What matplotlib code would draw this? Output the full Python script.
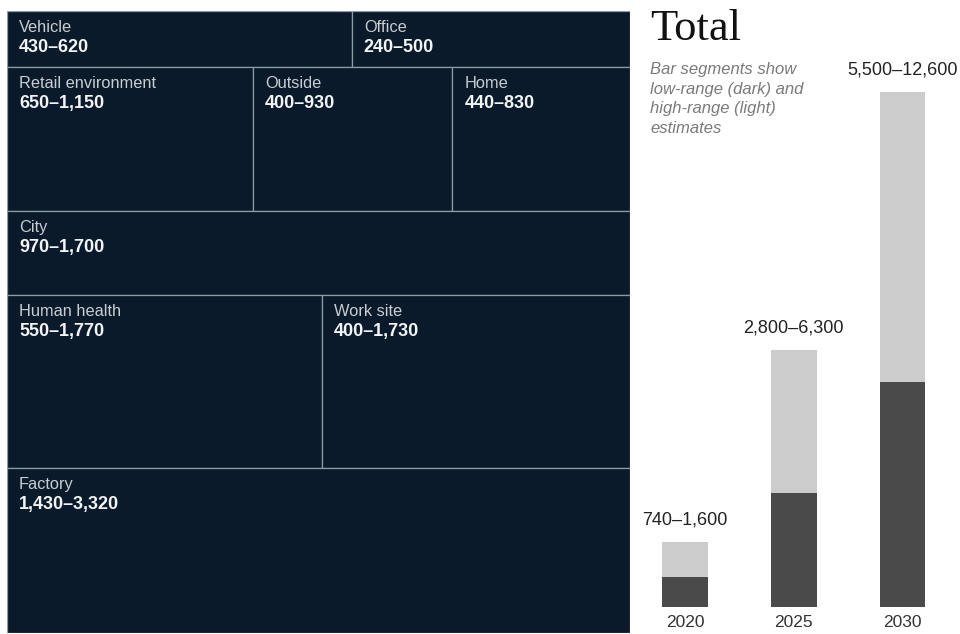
"""Treemap of estimated values by location plus total range bars."""
import matplotlib
matplotlib.use('Agg')
import matplotlib.pyplot as plt
from matplotlib.patches import Rectangle

plt.rcParams['font.family'] = ['Liberation Sans', 'DejaVu Sans']

# treemap cells (sized by high estimate), grouped into horizontal rows
locations = ["Vehicle", "Office", "Retail environment", "Outside", "Home",
             "City", "Human health", "Work site", "Factory"]
loc_low = [430, 240, 650, 400, 440, 970, 550, 400, 1430]
loc_high = [620, 500, 1150, 930, 830, 1700, 1770, 1730, 3320]
loc_row = [0, 0, 1, 1, 1, 2, 3, 3, 4]

# totals
years = ["2020", "2025", "2030"]
total_low = [740, 2800, 5500]
total_high = [1600, 6300, 12600]

W, H = 960, 634
CELL = '#0a1a2a'
EDGE = '#8e9ba7'


def rng(lo, hi):
    return f"{lo:,}\u2013{hi:,}"


fig = plt.figure(figsize=(W / 100, H / 100), dpi=100)


def px_axes(x0, y0, x1, y1):
    # pixel box (top-left origin) -> figure axes
    return fig.add_axes([x0 / W, 1 - y1 / H, (x1 - x0) / W, (y1 - y0) / H])


# --- treemap ---
ax = px_axes(7, 11, 630, 633)
total = sum(loc_high)
ax.set_xlim(0, 1)
ax.set_ylim(total, 0)
ax.axis('off')

y = 0
for r in sorted(set(loc_row)):
    idx = [i for i, rr in enumerate(loc_row) if rr == r]
    row_sum = sum(loc_high[i] for i in idx)
    x = 0
    for i in idx:
        w = loc_high[i] / row_sum
        ax.add_patch(Rectangle((x, y), w, row_sum, facecolor=CELL,
                               edgecolor=EDGE, linewidth=0.9))
        ax.annotate(locations[i], (x, y), xytext=(12, -9), textcoords='offset pixels',
                    ha='left', va='top', fontsize=11.8, color='#c9cdd2')
        ax.annotate(rng(loc_low[i], loc_high[i]), (x, y), xytext=(12, -28),
                    textcoords='offset pixels', ha='left', va='top',
                    fontsize=13, fontweight='bold', color='#f2f4f6')
        x += w
    y += row_sum

# --- totals bar chart ---
bx = px_axes(640, 92, 950, 607)
pos = range(len(years))
bx.bar(pos, total_high, width=0.42, color='#cccccc')
bx.bar(pos, total_low, width=0.42, color='#4a4a4a')
for p, lo, hi in zip(pos, total_low, total_high):
    bx.annotate(rng(lo, hi), (p, hi), xytext=(0, 22), textcoords='offset pixels',
                ha='center', va='center', fontsize=13, color='#222222')
bx.set_xlim(-0.414, 2.437)
bx.set_ylim(0, max(total_high))
bx.set_xticks(list(pos), years)
bx.tick_params(axis='x', length=0, pad=6, labelsize=12.5, labelcolor='#333333')
bx.set_yticks([])
for s in bx.spines.values():
    s.set_visible(False)

fig.text(650 / W, 1 - 40 / H, "Total", family='Liberation Serif', fontsize=32,
         color='#111111', va='baseline', ha='left')
fig.text(650 / W, 1 - 62 / H,
         "Bar segments show\nlow-range (dark) and\nhigh-range (light)\nestimates",
         fontsize=12, style='italic', color='#7a7a7a', va='top', ha='left',
         linespacing=1.38)

fig.savefig('out.png', dpi=100)
